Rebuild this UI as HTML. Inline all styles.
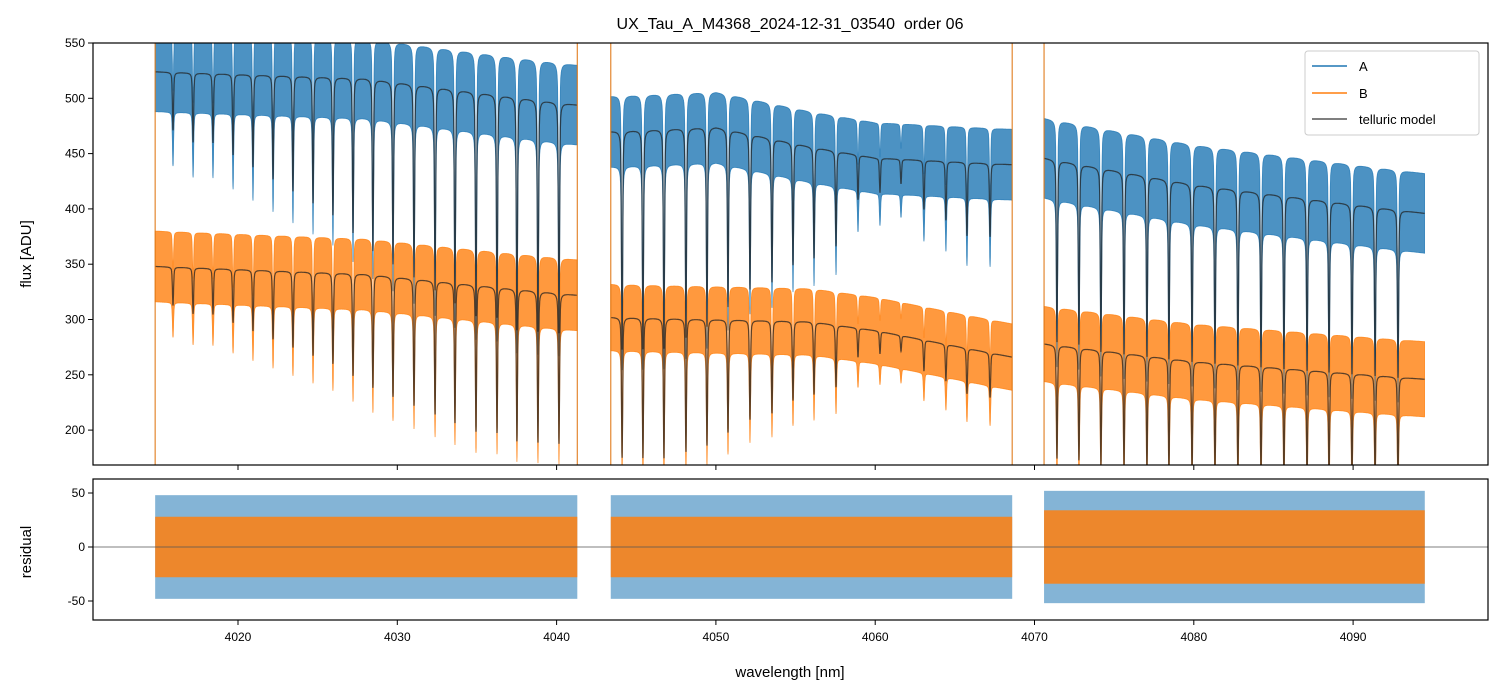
<!DOCTYPE html>
<html><head><meta charset="utf-8">
<style>
body{margin:0;background:#fff;}
svg{display:block;font-family:"Liberation Sans","DejaVu Sans",sans-serif;}
</style></head>
<body>
<svg id="chart" width="1502" height="696" viewBox="0 0 1502 696">
<defs>
<clipPath id="clipTop"><rect x="93" y="43" width="1395" height="422"/></clipPath>
<clipPath id="clipBot"><rect x="93" y="479" width="1395" height="141"/></clipPath>
</defs>
<rect x="0" y="0" width="1502" height="696" fill="#fff"/>
<text x="790" y="29" text-anchor="middle" font-size="16" fill="#000">UX_Tau_A_M4368_2024-12-31_03540&#160; order 06</text>
<g id="topG" clip-path="url(#clipTop)"></g>
<g id="botG" clip-path="url(#clipBot)"></g>
<g id="axesG"></g>
<g>
<rect x="1305" y="51" width="174" height="84" rx="3" fill="#fff" fill-opacity="0.8" stroke="#ccc"/>
<line x1="1312" y1="66" x2="1347" y2="66" stroke="#1f77b4" stroke-width="1.5"/>
<text x="1359" y="71" font-size="13">A</text>
<line x1="1312" y1="93" x2="1347" y2="93" stroke="#ff7f0e" stroke-width="1.5"/>
<text x="1359" y="98" font-size="13">B</text>
<line x1="1312" y1="119" x2="1347" y2="119" stroke="#555" stroke-width="1.5"/>
<text x="1359" y="124" font-size="13">telluric model</text>
</g>
<text transform="translate(31,254) rotate(-90)" text-anchor="middle" font-size="15">flux [ADU]</text>
<text transform="translate(31,552) rotate(-90)" text-anchor="middle" font-size="15">residual</text>
<text x="790" y="677" text-anchor="middle" font-size="15">wavelength [nm]</text>
</svg>
<script>
// ---- data ----
const segStarts = [4014.8, 4043.4, 4070.6];
const segEnds = [4041.3, 4068.6, 4094.5];
const lineCenters = [
 [4015.92,4017.18,4018.43,4019.69,4020.94,4022.20,4023.45,4024.71,4025.96,4027.22,4028.47,4029.73,4031.05,4032.37,4033.62,4034.94,4036.26,4037.51,4038.83,4040.15],
 [4044.11,4045.42,4046.74,4048.12,4049.44,4050.76,4052.14,4053.52,4054.84,4056.16,4057.54,4058.92,4060.30,4061.62,4063.06,4064.44,4065.76,4067.21],
 [4071.41,4072.79,4074.17,4075.62,4077.06,4078.44,4079.89,4081.33,4082.77,4084.22,4085.66,4087.11,4088.49,4089.93,4091.38,4092.82]
];
const lineMinT = [
 [0.9,0.88,0.88,0.86,0.84,0.82,0.8,0.78,0.76,0.73,0.7,0.68,0.66,0.64,0.62,0.6,0.6,0.58,0.58,0.58],
 [0.58,0.58,0.58,0.6,0.62,0.66,0.7,0.72,0.76,0.78,0.81,0.91,0.93,0.95,0.9,0.88,0.85,0.85],
 [0.63,0.63,0.62,0.62,0.62,0.62,0.62,0.62,0.62,0.62,0.62,0.62,0.62,0.62,0.62,0.62]
];
const contWl = [4014.8,4028,4041.3,4043.4,4050,4056,4060,4068.6,4070.6,4080,4094.5];
const contA = [524,518,494,470,474,456,446,440,446,422,396];
const contB = [348,341,322,302,300,298,290,266,278,262,246];
const noiseA = [36,32,36];
const noiseB = [32,30,34];
const residA = [48,48,52];
const residB = [28,28,34];
const yTicksTop = [200,250,300,350,400,450,500,550];
const yTicksBot = [-50,0,50];
const xTicks = [4020,4030,4040,4050,4060,4070,4080,4090];
const edgeLines = [4014.8,4041.3,4043.4,4068.6,4070.6];

// ---- axes functions ----
const X0=93,X1=1488;
const xs = w => 238 + (w-4020)*15.93;
const ys = v => 43 + (550-v)*1.106;
const yr = v => 547 - v*1.08;
const NS='http://www.w3.org/2000/svg';
function mk(tag, attrs, parent){const e=document.createElementNS(NS,tag);for(const k in attrs)e.setAttribute(k,attrs[k]);parent.appendChild(e);return e;}
function interp(w, xa, ya){for(let i=0;i<xa.length-1;i++){if(w<=xa[i+1])return ya[i]+(ya[i+1]-ya[i])*(w-xa[i])/(xa[i+1]-xa[i]);}return ya[ya.length-1];}
function trans(w, s){let t=1;const g=0.05,sg=0.035;for(let i=0;i<lineCenters[s].length;i++){const d=1-lineMinT[s][i];const dx=w-lineCenters[s][i];const prof=0.65*Math.exp(-dx*dx/(2*sg*sg))+0.35*g*g/(dx*dx+g*g);t*=1-d*prof;}return t;}

const topG=document.getElementById('topG'), botG=document.getElementById('botG'), axesG=document.getElementById('axesG');

for(let s=0;s<3;s++){
  const pts=[];
  for(let w=segStarts[s]; w<=segEnds[s]; w+=0.01) pts.push([w, trans(w,s)]);
  const bands=[[contA,noiseA,'#1f77b4','a'],[contB,noiseB,'#ff7f0e','b']];
  for(const [cont,noise,col,nm] of bands){
    let up='',lo='';
    for(const [w,t] of pts){const m=interp(w,contWl,cont)*t;up+=(up?'L':'M')+xs(w).toFixed(1)+','+ys(m+noise[s]).toFixed(1);}
    for(let i=pts.length-1;i>=0;i--){const [w,t]=pts[i];const m=interp(w,contWl,cont)*t;lo+='L'+xs(w).toFixed(1)+','+ys(m-noise[s]*t).toFixed(1);}
    const p=mk('path',{d:up+lo+'Z',fill:col,'fill-opacity':0.8,stroke:col,'stroke-opacity':0.8,'stroke-width':0.8},topG);
    
    
  }
  for(const [cont,nm] of [[contA,'a'],[contB,'b']]){
    let d='';
    for(const [w,t] of pts){d+=(d?'L':'M')+xs(w).toFixed(1)+','+ys(interp(w,contWl,cont)*t).toFixed(1);}
    const p=mk('path',{d:d,fill:'none',stroke:'#222','stroke-opacity':0.75,'stroke-width':1.2},topG);
    
    
  }
  for(const [r,col,op,nm] of [[residA,'#1f77b4',0.55,'a'],[residB,'#ff7f0e',0.85,'b']]){
    const x1=xs(segStarts[s]), x2=xs(segEnds[s]);
    const rc=mk('rect',{x:x1,y:yr(r[s]),width:x2-x1,height:yr(-r[s])-yr(r[s]),fill:col,'fill-opacity':op},botG);
    
    
  }
}
for(const w of edgeLines){
  const l=mk('line',{x1:xs(w),x2:xs(w),y1:43,y2:465,stroke:'#e07a1a','stroke-width':1.2,'stroke-opacity':0.9},topG);
  
  
}
mk('line',{x1:X0,x2:X1,y1:yr(0),y2:yr(0),stroke:'#555','stroke-width':0.8},botG);

for(const [y0,y1,nm] of [[43,465,'flux-axes-frame'],[479,620,'residual-axes-frame']]){
  const r=mk('rect',{x:X0,y:y0,width:X1-X0,height:y1-y0,fill:'none',stroke:'#000','stroke-width':1.2},axesG);
  
  
}
for(const v of yTicksTop){
  mk('line',{x1:X0-5,x2:X0,y1:ys(v),y2:ys(v),stroke:'#000'},axesG);
  const t=mk('text',{x:X0-8,y:ys(v)+4,'text-anchor':'end','font-size':12},axesG);t.textContent=v;
  
  
}
for(const v of yTicksBot){
  mk('line',{x1:X0-5,x2:X0,y1:yr(v),y2:yr(v),stroke:'#000'},axesG);
  const t=mk('text',{x:X0-8,y:yr(v)+4,'text-anchor':'end','font-size':12},axesG);t.textContent=v;
  
  
}
for(const v of xTicks){
  mk('line',{x1:xs(v),x2:xs(v),y1:465,y2:470,stroke:'#000'},axesG);
  mk('line',{x1:xs(v),x2:xs(v),y1:620,y2:625,stroke:'#000'},axesG);
  const t=mk('text',{x:xs(v),y:641,'text-anchor':'middle','font-size':12},axesG);t.textContent=v;
  
  
}
</script>
</body></html>
